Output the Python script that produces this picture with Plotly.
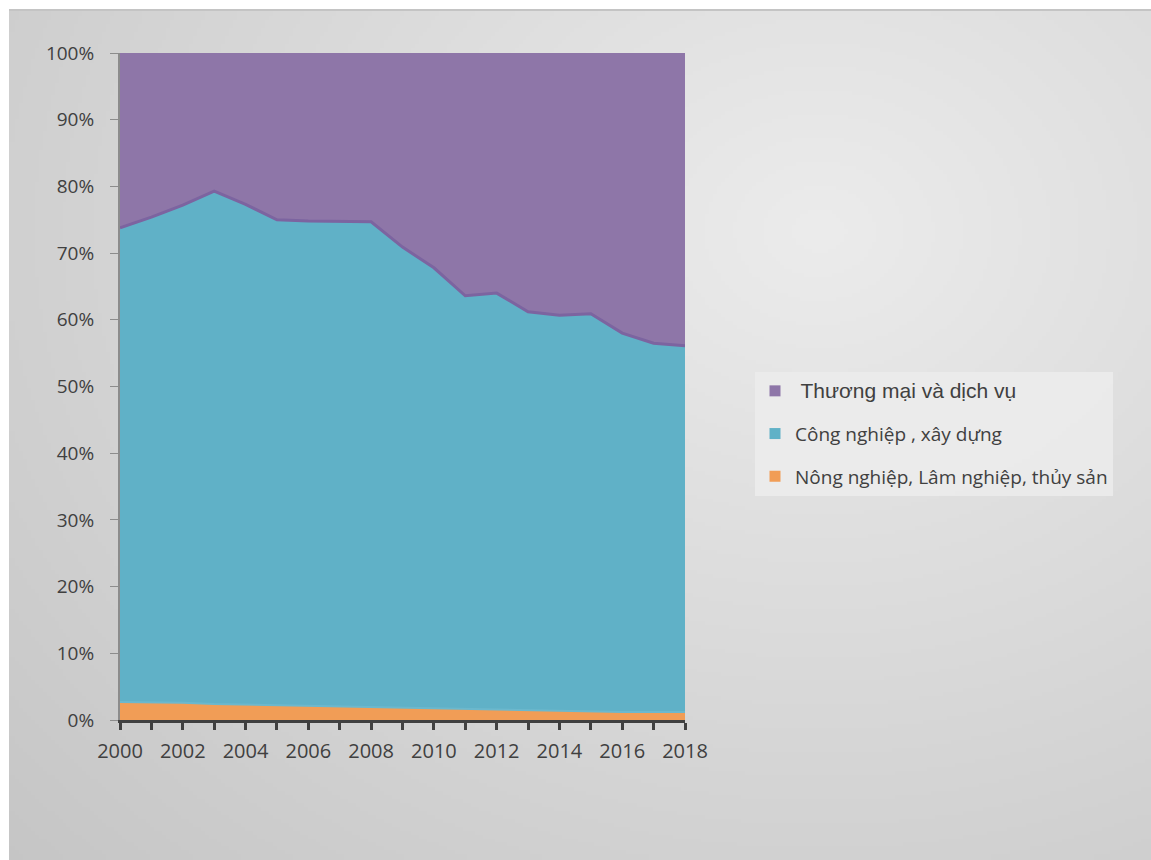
import base64, struct, zlib
import numpy as np
import plotly.graph_objects as go

years = list(range(2000, 2019))
# Shares (%) of GDP by sector
agri = [2.7, 2.7, 2.6, 2.4, 2.3, 2.2, 2.1, 2.0, 2.0, 1.9, 1.8, 1.7, 1.5, 1.4, 1.3, 1.3, 1.2, 1.2, 1.2]
cum_ind = [73.8, 75.4, 77.2, 79.3, 77.3, 75.0, 74.8, 74.8, 74.7, 70.9, 67.8, 63.6, 64.0, 61.2, 60.7, 60.9, 58.0, 56.5, 56.1]
industry = [round(c - a, 1) for c, a in zip(cum_ind, agri)]
services = [round(100 - c, 1) for c in cum_ind]

names = ["Nông nghiệp, Lâm nghiệp, thủy sản", "Công nghiệp , xây dựng", "Thương mại và dịch vụ"]
colors = ["rgb(241,157,86)", "rgb(96,177,199)", "rgb(142,118,168)"]
y_ticks = list(range(0, 101, 10))
y_ticktext = [f"{v}%" for v in y_ticks]

W, H = 1151, 860
L, R, T, B = 120, 466, 53, 140
PW, PH = W - L - R, H - T - B


def gradient_png(w, h):
    xs = np.linspace(9, W, w)
    ys = np.linspace(10, H, h)
    X, Y = np.meshgrid(xs, ys)
    d = np.sqrt(((X - 820) * 0.9) ** 2 + ((Y - 230) * 1.1) ** 2)
    v = np.clip(236 - 0.038 * d, 188, 240).astype(np.uint8)
    rgb = np.stack([v, v, v], axis=-1)
    raw = b"".join(b"\x00" + rgb[i].tobytes() for i in range(h))

    def chunk(tag, data):
        c = struct.pack(">I", len(data)) + tag + data
        return c + struct.pack(">I", zlib.crc32(tag + data) & 0xFFFFFFFF)

    png = b"\x89PNG\r\n\x1a\n" + chunk(b"IHDR", struct.pack(">IIBBBBB", w, h, 8, 2, 0, 0, 0))
    png += chunk(b"IDAT", zlib.compress(raw, 9)) + chunk(b"IEND", b"")
    return "data:image/png;base64," + base64.b64encode(png).decode()


fig = go.Figure()
fig.add_trace(go.Scatter(
    x=years, y=agri, name=names[0], stackgroup="one", mode="lines",
    line=dict(width=2, color="rgb(108,184,205)"), fillcolor=colors[0],
    showlegend=False))
fig.add_trace(go.Scatter(
    x=years, y=industry, name=names[1], stackgroup="one", mode="lines",
    line=dict(width=3, color="rgb(124,100,160)"), fillcolor=colors[1],
    showlegend=False))
fig.add_trace(go.Scatter(
    x=years, y=services, name=names[2], stackgroup="one", mode="lines",
    line=dict(width=0, color=colors[2]), fillcolor=colors[2],
    showlegend=False))

# legend entries (square keys)
legend_labels = [
    '<span style="font-family:Liberation Sans;font-size:21px"> ' + names[2] + '</span>',
    names[1],
    names[0],
]
legend_colors = [colors[2], colors[1], colors[0]]
for i, (lab, col) in enumerate(zip(legend_labels, legend_colors)):
    fig.add_trace(go.Scatter(
        x=[None], y=[None], mode="markers", name=lab,
        marker=dict(symbol="square", size=11, color=col),
        legendgroup=f"g{i}", legendrank=i + 1, hoverinfo="skip"))

fig.update_layout(
    width=W, height=H,
    margin=dict(l=L, r=R, t=T, b=B),
    paper_bgcolor="white",
    plot_bgcolor="rgba(0,0,0,0)",
    font=dict(family="Open Sans", color="#404040"),
    images=[dict(
        source=gradient_png(288, 215), xref="paper", yref="paper",
        x=(9 - L) / PW, y=(H - B - 10) / PH,
        sizex=(W - 9) / PW, sizey=(H - 10) / PH,
        xanchor="left", yanchor="top", sizing="stretch", layer="below")],
    shapes=[dict(type="line", xref="paper", yref="paper",
                 x0=(9 - L) / PW, x1=(W - L) / PW,
                 y0=(H - B - 10) / PH, y1=(H - B - 10) / PH,
                 line=dict(color="#c4c4c4", width=2), layer="below")],
    xaxis=dict(
        range=[2000, 2018], tick0=2000, dtick=2, ticks="outside", ticklen=7,
        tickwidth=3, tickcolor="#404040", showline=True, linecolor="#404040",
        linewidth=3, showgrid=False, zeroline=False,
        tickfont=dict(size=20, color="#404040"), ticklabelstandoff=4,
        minor=dict(dtick=1, ticks="outside", ticklen=7, tickwidth=3, tickcolor="#404040"),
    ),
    yaxis=dict(
        range=[0, 100], tickvals=y_ticks, ticktext=y_ticktext, ticks="outside",
        ticklen=8, tickcolor="#8c8c8c", showline=True, linecolor="#8c8c8c",
        linewidth=2, showgrid=False, zeroline=False, ticklabelstandoff=12,
        tickfont=dict(size=19, color="#404040"),
    ),
    legend=dict(
        x=(755 - L) / PW, y=(H - B - 372) / PH, xanchor="left", yanchor="top",
        traceorder="grouped", tracegroupgap=15,
        bgcolor="rgba(236,236,236,0.85)",
        font=dict(family="Open Sans", size=19, color="#404040"),
        itemwidth=30,
    ),
    showlegend=True,
)

fig.write_html("out.html")
